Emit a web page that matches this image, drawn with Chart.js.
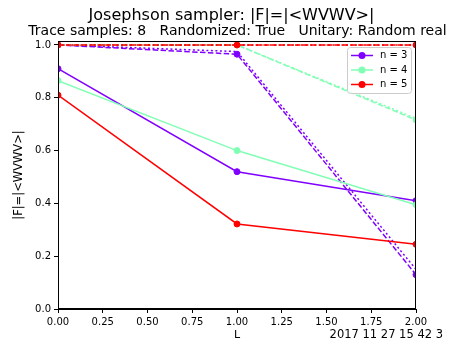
<!DOCTYPE html>
<html><head><meta charset="utf-8">
<script src="https://cdn.jsdelivr.net/npm/chart.js@4"></script>
<style>html,body{margin:0;padding:0;background:#fff}#wrap{width:463px;height:347px;position:relative}</style>
</head><body><div id="wrap"><canvas id="c" width="463" height="347"></canvas></div>
<script>
// ---- data ----
const xValues = [0, 1, 2];
const seriesLabels = ['n = 3', 'n = 4', 'n = 5'];
const seriesColors = ['#8000ff', '#80ffb4', '#ff0000'];
// solid lines (with markers)
const solidN3 = [0.91, 0.52, 0.41];
const solidN4 = [0.865, 0.60, 0.395];
const solidN5 = [0.81, 0.322, 0.245];
// dashed lines (with markers)
const dashedN3 = [1.0, 0.965, 0.13];
const dashedN4 = [1.0, 1.0, 0.716];
const dashedN5 = [1.0, 1.0, 1.0];
// dotted lines (no markers)
const dottedN3 = [1.0, 0.975, 0.15];
const dottedN4 = [1.0, 1.0, 0.722];
const dottedN5 = [1.0, 1.0, 1.0];
const xTickValues = [0, 0.25, 0.5, 0.75, 1.0, 1.25, 1.5, 1.75, 2.0];
const yTickValues = [0, 0.2, 0.4, 0.6, 0.8, 1.0];
const titleText = 'Josephson sampler: |F|=|<WVWV>|';
const subtitleText = 'Trace samples: 8   Randomized: True   Unitary: Random real';
const stampText = '2017 11 27 15 42 3';
const xLabel = 'L';
const yLabel = '|F|=|<WVWV>|';

const FONT = "'DejaVu Sans', sans-serif";
const toPts = arr => xValues.map((x, i) => ({x: x, y: arr[i]}));

function ds(arr, idx, kind) {
  const c = seriesColors[idx];
  return {
    label: seriesLabels[idx] + (kind === 'solid' ? '' : ' ' + kind),
    data: toPts(arr),
    borderColor: c,
    backgroundColor: c,
    borderWidth: 1.5,
    borderDash: kind === 'dashed' ? [5.5, 2.4] : (kind === 'dotted' ? [2, 2.5] : []),
    pointRadius: kind === 'dotted' ? 0 : 3,
    pointBorderWidth: 1,
    pointBackgroundColor: c,
    pointBorderColor: c,
    tension: 0,
    clip: 0,
    fill: false
  };
}

// top-first order (Chart.js draws index 0 last)
const datasets = [
  ds(dashedN5, 2, 'dashed'), ds(dottedN5, 2, 'dotted'), ds(solidN5, 2, 'solid'),
  ds(dashedN4, 1, 'dashed'), ds(dottedN4, 1, 'dotted'), ds(solidN4, 1, 'solid'),
  ds(dashedN3, 0, 'dashed'), ds(dottedN3, 0, 'dotted'), ds(solidN3, 0, 'solid')
];

const decor = {
  id: 'decor',
  afterDatasetsDraw(chart) {
    const ctx = chart.ctx, a = chart.chartArea;
    ctx.save();
    // frame
    ctx.strokeStyle = '#000'; ctx.lineWidth = 1;
    ctx.strokeRect(Math.round(a.left) + 0.5, Math.round(a.top) + 0.5, Math.round(a.right - a.left) - 1, Math.round(a.bottom - a.top) - 1);
    // legend
    const lx = 347, ly = 47, lw = 64, lh = 46;
    ctx.beginPath();
    if (ctx.roundRect) ctx.roundRect(lx + 0.5, ly + 0.5, lw, lh, 3); else ctx.rect(lx + 0.5, ly + 0.5, lw, lh);
    ctx.fillStyle = 'rgba(255,255,255,0.8)'; ctx.fill();
    ctx.strokeStyle = '#cccccc'; ctx.lineWidth = 1; ctx.stroke();
    ctx.font = '10px ' + FONT; ctx.textBaseline = 'middle'; ctx.textAlign = 'left';
    seriesLabels.forEach((lab, i) => {
      const y = 55.5 + i * 14.5;
      ctx.strokeStyle = seriesColors[i]; ctx.lineWidth = 1.5;
      ctx.beginPath(); ctx.moveTo(351, y); ctx.lineTo(373, y); ctx.stroke();
      ctx.fillStyle = seriesColors[i];
      ctx.beginPath(); ctx.arc(362, y, 3.5, 0, Math.PI * 2); ctx.fill();
      ctx.fillStyle = '#000';
      ctx.fillText(lab, 380, y);
    });
    // titles
    ctx.fillStyle = '#000'; ctx.textAlign = 'center'; ctx.textBaseline = 'alphabetic';
    ctx.font = '16px ' + FONT; ctx.fillText(titleText, 231.5, 19.5);
    ctx.font = '14px ' + FONT; ctx.fillText(subtitleText, 237.5, 35);
    // date stamp
    ctx.font = '11.5px ' + FONT; ctx.textAlign = 'right';
    ctx.fillText(stampText, 443, 338);
    ctx.restore();
  }
};

new Chart(document.getElementById('c'), {
  type: 'line',
  data: {datasets: datasets},
  options: {
    responsive: false,
    devicePixelRatio: 1,
    animation: false,
    events: [],
    layout: {padding: {top: 41, right: 47, left: 0, bottom: 0}, autoPadding: false},
    plugins: {legend: {display: false}, tooltip: {enabled: false}, title: {display: false}},
    scales: {
      x: {
        type: 'linear', min: 0, max: 2,
        afterFit(s) { s.height = 38; },
        afterBuildTicks(s) { s.ticks = xTickValues.map(v => ({value: v})); },
        ticks: {callback: v => Number(v).toFixed(2), font: {family: FONT, size: 10}, color: '#000', padding: 3, maxRotation: 0, autoSkip: false, includeBounds: false},
        grid: {drawOnChartArea: false, tickLength: 4, color: '#000', tickColor: '#000'},
        border: {display: true, color: '#000', width: 1},
        title: {display: true, text: xLabel, font: {family: FONT, size: 11}, color: '#000', padding: {top: 0, bottom: 5.5}}
      },
      y: {
        type: 'linear', min: 0, max: 1.015,
        afterFit(s) { s.width = 58; },
        afterBuildTicks(s) { s.ticks = yTickValues.map(v => ({value: v})); },
        ticks: {callback: v => Number(v).toFixed(1), font: {family: FONT, size: 10}, color: '#000', padding: 3, autoSkip: false, includeBounds: false},
        grid: {drawOnChartArea: false, tickLength: 4, color: '#000', tickColor: '#000'},
        border: {display: true, color: '#000', width: 1},
        title: {display: true, text: yLabel, font: {family: FONT, size: 11.5}, color: '#000', padding: {top: 12, bottom: 0}}
      }
    }
  },
  plugins: [decor]
});
</script>
</body></html>
